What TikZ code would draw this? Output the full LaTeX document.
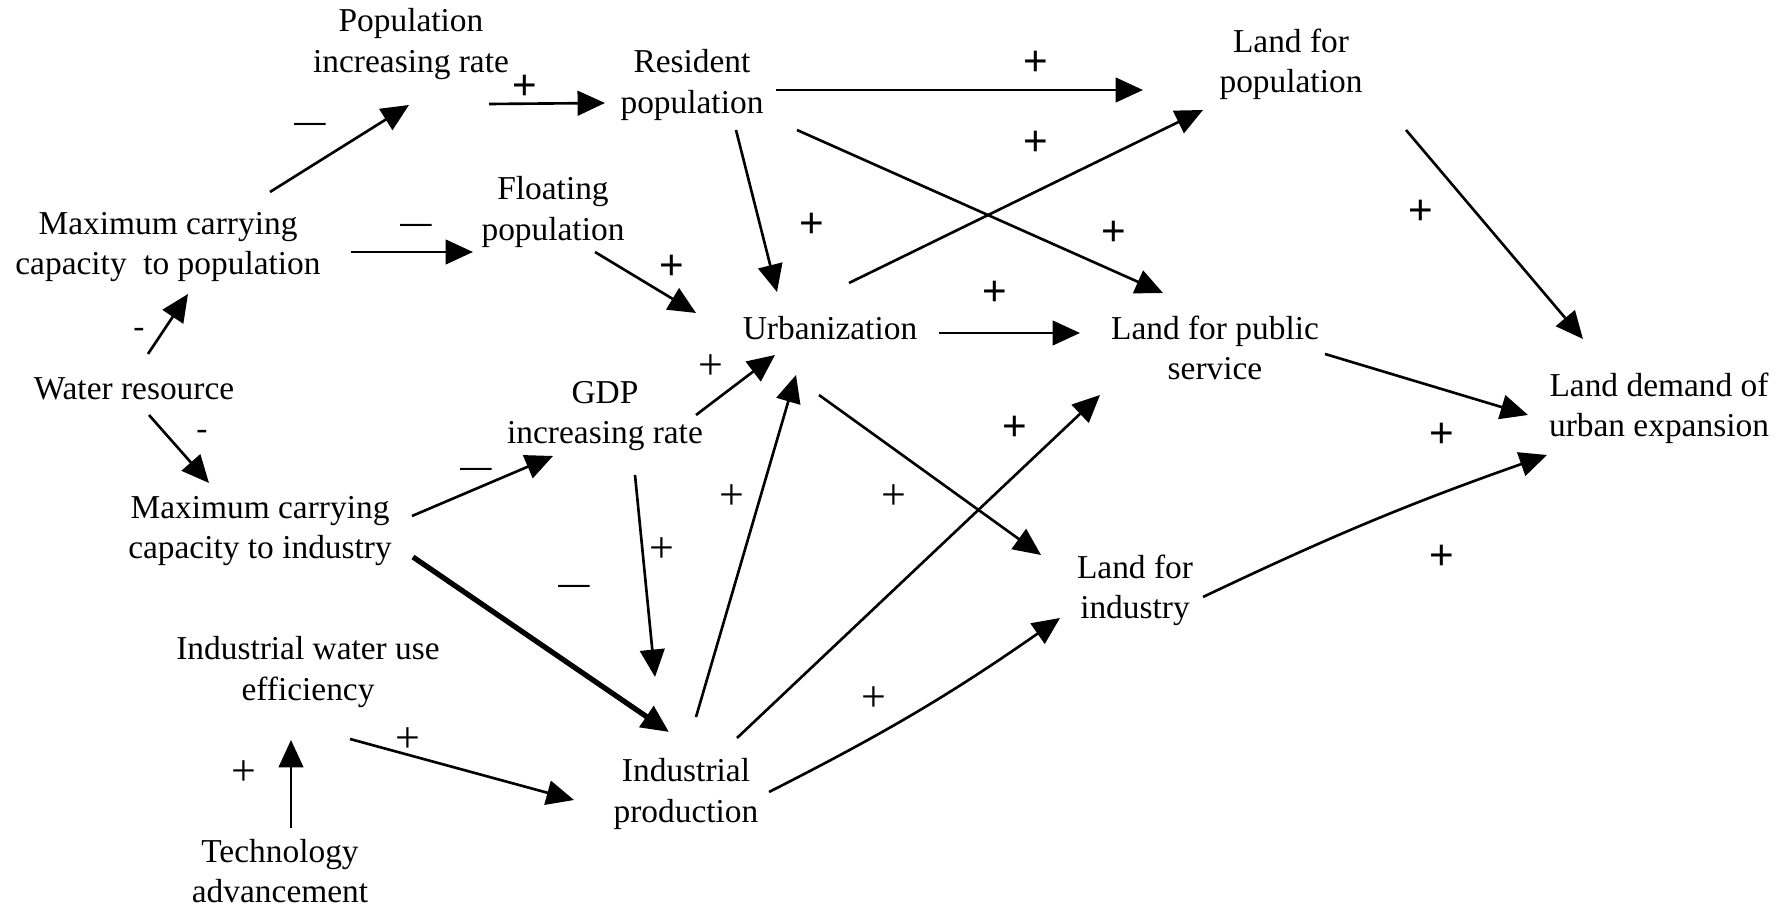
\documentclass[tikz,border=0pt]{standalone}
\usepackage{fontspec}
\setmainfont{Liberation Serif}
\newfontfamily\plusfont{Liberation Sans}
\usetikzlibrary{arrows.meta}
\begin{document}
\begin{tikzpicture}[x=0.01cm,y=-0.01cm,
  lbl/.style={align=center,font=\fontsize{9.5}{11.4}\selectfont,inner sep=0pt},
  arr/.style={-{Triangle[length=7.8pt,width=7pt]},line width=0.75pt},
  thickarr/.style={-{Triangle[length=7.8pt,width=7pt]},line width=1.5pt},
  pp/.style={font=\plusfont\fontsize{12}{12}\selectfont,inner sep=0pt},
  tp/.style={font=\fontsize{12.5}{12.5}\selectfont,inner sep=0pt},
  mn/.style={font=\plusfont\fontsize{9}{9}\selectfont,inner sep=0pt},
  hy/.style={font=\fontsize{9.5}{9.5}\selectfont,inner sep=0pt}]
\fill[white] (0,0) rectangle (1787,910);
\useasboundingbox (0,0) rectangle (1787,910);

% nodes
\node[lbl] (popRate) at (411,44) {Population\\increasing rate};
\node[lbl] (resPop) at (692,85) {Resident\\population};
\node[lbl] (landPop) at (1291,64) {Land for\\population};
\node[lbl] (maxPop) at (168,247) {Maximum carrying\\capacity\ \ to population};
\node[lbl] (floatPop) at (553,212) {Floating\\population};
\node[lbl] (urban) at (830,328) {Urbanization};
\node[lbl] (landPub) at (1215,348) {Land for public\\service};
\node[lbl] (water) at (134,389) {Water resource};
\node[lbl] (gdp) at (605,416) {GDP\\increasing rate};
\node[lbl] (landDem) at (1659,408) {Land demand of\\urban expansion};
\node[lbl] (maxInd) at (260,531) {Maximum carrying\\capacity to industry};
\node[lbl] (landInd) at (1135,590) {Land for\\industry};
\node[lbl] (indEff) at (308,672) {Industrial water use\\efficiency};
\node[lbl] (indProd) at (686,794) {Industrial\\production};
\node[lbl] (tech) at (280,871) {Technology\\advancement};

% connectors
\draw[arr] ([shift={(102,-55)}]maxPop.center) -- ([shift={(-2,61)}]popRate.center);
\draw[arr] ([shift={(78,60)}]popRate.center) -- ([shift={(-87,18)}]resPop.center);
\draw[arr] ([shift={(183,5)}]maxPop.center) -- ([shift={(-80,40)}]floatPop.center);
\draw[arr] ([shift={(14,-35)}]water.center) -- ([shift={(20,47)}]maxPop.center);
\draw[arr] ([shift={(15,26)}]water.center) -- ([shift={(-51,-48)}]maxInd.center);
\draw[arr] ([shift={(84,5)}]resPop.center) -- ([shift={(-148,26)}]landPop.center);
\draw[arr] ([shift={(44,45)}]resPop.center) -- ([shift={(-53,-36)}]urban.center);
\draw[arr] ([shift={(105,45)}]resPop.center) -- ([shift={(-52,-55)}]landPub.center);
\draw[arr] ([shift={(42,40)}]floatPop.center) -- ([shift={(-134,-15)}]urban.center);
\draw[arr] ([shift={(19,-45)}]urban.center) -- ([shift={(-88,46)}]landPop.center);
\draw[arr] ([shift={(109,5)}]urban.center) -- ([shift={(-135,-15)}]landPub.center);
\draw[arr] ([shift={(91,-1)}]gdp.center) -- ([shift={(-55,27)}]urban.center);
\draw[arr] ([shift={(-11,67)}]urban.center) -- ([shift={(-94,-35)}]landInd.center);
\draw[arr] ([shift={(152,-15)}]maxInd.center) -- ([shift={(-52,40)}]gdp.center);
\draw[thickarr] ([shift={(153,26)}]maxInd.center) -- ([shift={(-17,-62)}]indProd.center);
\draw[arr] ([shift={(30,59)}]gdp.center) -- ([shift={(-31,-117)}]indProd.center);
\draw[arr] ([shift={(10,-77)}]indProd.center) -- ([shift={(-34,47)}]urban.center);
\draw[arr] ([shift={(51,-56)}]indProd.center) -- ([shift={(-115,47)}]landPub.center);
\draw[arr] ([shift={(83,-2)}]indProd.center) to[bend right=4] ([shift={(-75,28)}]landInd.center);
\draw[arr] ([shift={(42,67)}]indEff.center) -- ([shift={(-112,6)}]indProd.center);
\draw[arr] ([shift={(11,-43)}]tech.center) -- ([shift={(-17,68)}]indEff.center);
\draw[arr] ([shift={(115,66)}]landPop.center) -- ([shift={(-76,-69)}]landDem.center);
\draw[arr] ([shift={(110,6)}]landPub.center) -- ([shift={(-131,7)}]landDem.center);
\draw[arr] ([shift={(68,7)}]landInd.center) to[bend left=3] ([shift={(-112,47)}]landDem.center);

% polarity labels
\node[mn] (s1) at (310,128) {\textemdash};
\node[pp] (s2) at (525,87) {+};
\node[mn] (s3) at (416,229) {\textemdash};
\node[hy] (s4) at (139,333) {-};
\node[hy] (s5) at (202,435) {-};
\node[pp] (s6) at (1036,63) {+};
\node[pp] (s7) at (1036,143) {+};
\node[pp] (s8) at (812,225) {+};
\node[pp] (s9) at (672,267) {+};
\node[pp] (s10) at (1114,233) {+};
\node[pp] (s11) at (995,293) {+};
\node[tp] (s12) at (711,367) {+};
\node[pp] (s13) at (1421,212) {+};
\node[mn] (s14) at (476,473) {\textemdash};
\node[mn] (s15) at (574,590) {\textemdash};
\node[tp] (s16) at (732,497) {+};
\node[tp] (s17) at (662,550) {+};
\node[tp] (s18) at (894,497) {+};
\node[pp] (s19) at (1015,428) {+};
\node[pp] (s20) at (1442,435) {+};
\node[pp] (s21) at (1442,557) {+};
\node[tp] (s22) at (874,699) {+};
\node[tp] (s23) at (408,740) {+};
\node[tp] (s24) at (244,773) {+};
\end{tikzpicture}
\end{document}
